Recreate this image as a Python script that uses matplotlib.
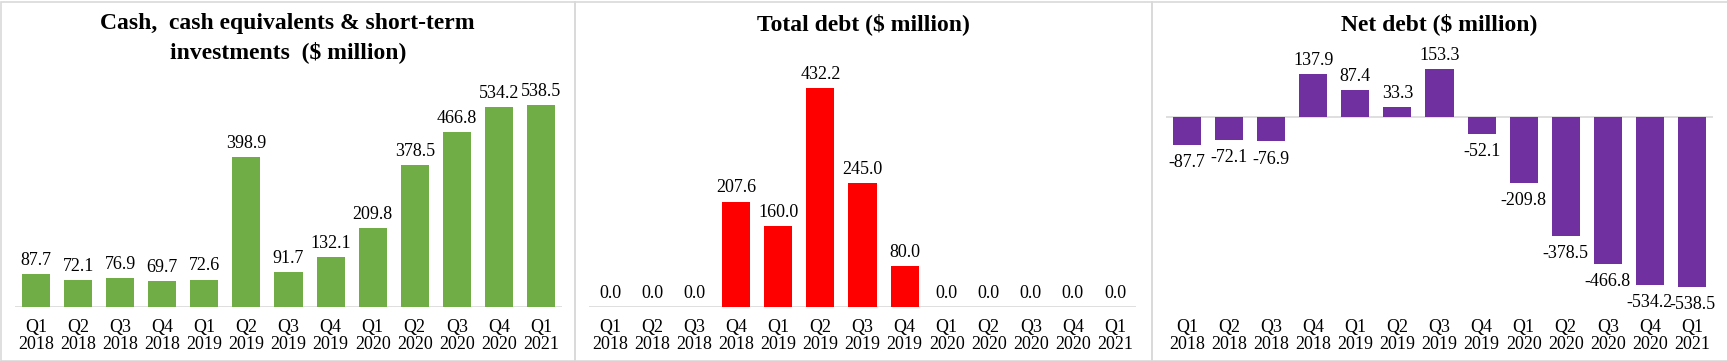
import matplotlib
matplotlib.use("Agg")
import matplotlib.pyplot as plt
from matplotlib.patches import Rectangle

plt.rcParams["font.family"] = "Liberation Serif"

quarters = ["Q1\n2018", "Q2\n2018", "Q3\n2018", "Q4\n2018",
            "Q1\n2019", "Q2\n2019", "Q3\n2019", "Q4\n2019",
            "Q1\n2020", "Q2\n2020", "Q3\n2020", "Q4\n2020",
            "Q1\n2021"]
cash = [87.7, 72.1, 76.9, 69.7, 72.6, 398.9, 91.7, 132.1, 209.8, 378.5, 466.8, 534.2, 538.5]
total_debt = [0.0, 0.0, 0.0, 207.6, 160.0, 432.2, 245.0, 80.0, 0.0, 0.0, 0.0, 0.0, 0.0]
net_debt = [-87.7, -72.1, -76.9, 137.9, 87.4, 33.3, 153.3, -52.1, -209.8, -378.5, -466.8, -534.2, -538.5]

titles = ["Cash,  cash equivalents & short-term\ninvestments  ($ million)",
          "Total debt ($ million)",
          "Net debt ($ million)"]
colors = ["#70AD47", "#FF0000", "#7030A0"]

W, H = 1727, 361
fig = plt.figure(figsize=(W / 100, H / 100), dpi=100)

# panel frames (pixels): left, right
panels = [(0.5, 575), (575, 1152), (1152, 1730)]
for x0, x1 in panels:
    fig.patches.append(Rectangle((x0 / W, 0.5 / H), (x1 - x0) / W, (H - 2) / H,
                                 transform=fig.transFigure, fill=False,
                                 edgecolor="#d9d9d9", linewidth=1.2))

# axes placement in pixels: left edge, y-limits
axes_left = [15, 589, 1166]
ylims = [(0, 658.6), (0, 486.9), (-602.0, 182.1)]
ax_w = 547
ax_bottom = 306.7
ax_top = 60

for i, (vals, title, color) in enumerate(zip([cash, total_debt, net_debt], titles, colors)):
    ax = fig.add_axes([axes_left[i] / W, (H - ax_bottom) / H, ax_w / W, (ax_bottom - ax_top) / H])
    x = range(len(quarters))
    ax.bar(x, vals, width=0.667, color=color)
    ax.set_xlim(-0.5, len(quarters) - 0.5)
    ax.set_ylim(*ylims[i])
    for s in ["top", "right", "left", "bottom"]:
        ax.spines[s].set_visible(False)
    ax.axhline(0, color="#d9d9d9", linewidth=1.2, zorder=0)
    ax.set_yticks([])
    ax.set_xticks(list(x))
    ax.set_xticklabels(quarters, fontsize=13, linespacing=1.0)
    ax.tick_params(axis="x", length=0, pad=9)
    ax.patch.set_visible(False)
    for xi, v in zip(x, vals):
        if v < 0:
            ax.annotate(f"{v:.1f}", (xi, v), xytext=(0, -6.5), textcoords="offset points",
                        ha="center", va="top", fontsize=13)
        else:
            ax.annotate(f"{v:.1f}", (xi, v), xytext=(0, 6.5), textcoords="offset points",
                        ha="center", va="baseline", fontsize=13)
    cx = (panels[i][0] + min(panels[i][1], W)) / 2
    fig.text(cx / W, 1 - 13 / H, title, ha="center", va="top", fontsize=17,
             fontweight="bold", linespacing=1.4)

fig.savefig("out.png", dpi=100)
